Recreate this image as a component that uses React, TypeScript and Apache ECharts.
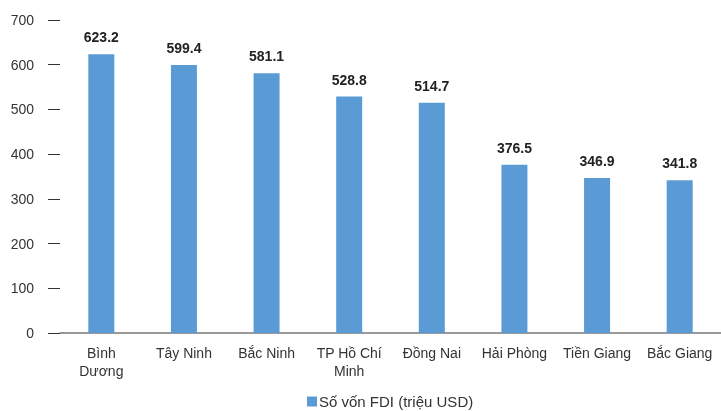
import React, { useEffect, useRef } from "react";
import * as echarts from "echarts";

const categories = ["Bình Dương", "Tây Ninh", "Bắc Ninh", "TP Hồ Chí Minh", "Đồng Nai", "Hải Phòng", "Tiền Giang", "Bắc Giang"];
const values = [623.2, 599.4, 581.1, 528.8, 514.7, 376.5, 346.9, 341.8];
const wrappedLabels: Record<string, string> = {
  "Bình Dương": "Bình\nDương",
  "TP Hồ Chí Minh": "TP Hồ Chí\nMinh",
};
const seriesName = "Số vốn FDI (triệu USD)";
const yTicks = { min: 0, max: 700, interval: 100 };

export default function App() {
  const ref = useRef<HTMLDivElement>(null);
  useEffect(() => {
    if (!ref.current) return;
    const chart = echarts.init(ref.current, null, { renderer: "svg" });
    const font = "'Liberation Sans', Arial, Helvetica, sans-serif";
    chart.setOption({
      animation: false,
      textStyle: { fontFamily: font },
      grid: { left: 60, right: -8, top: 20, bottom: 78 },
      legend: {
        top: 389,
        left: 302,
        itemWidth: 10,
        itemHeight: 10,
        icon: "rect",
        textStyle: { fontSize: 15, color: "#333", fontFamily: font, padding: [0, 0, 0, -3] },
        data: [seriesName],
      },
      xAxis: {
        type: "category",
        data: categories,
        axisLine: { show: true, lineStyle: { color: "#777", width: 1.5 } },
        axisTick: { show: false },
        axisLabel: {
          color: "#333",
          fontSize: 14,
          fontFamily: font,
          margin: 11,
          lineHeight: 18,
          interval: 0,
          formatter: (v: string) => wrappedLabels[v] ?? v,
        },
      },
      yAxis: {
        type: "value",
        min: yTicks.min,
        max: yTicks.max,
        interval: yTicks.interval,
        axisLine: { show: false },
        axisTick: { show: true, length: 12, lineStyle: { color: "#333", width: 1 } },
        splitLine: { show: false },
        axisLabel: { color: "#333", fontSize: 14, fontFamily: font, margin: 26 },
      },
      series: [
        {
          name: seriesName,
          type: "bar",
          data: values,
          barWidth: 26,
          itemStyle: { color: "#5B9BD5" },
          label: {
            show: true,
            position: "top",
            distance: 10,
            color: "#222",
            fontWeight: "bold",
            fontSize: 14,
            fontFamily: font,
            formatter: (p: any) => p.value.toFixed(1),
          },
        },
      ],
    });
    return () => chart.dispose();
  }, []);
  return <div ref={ref} style={{ position: "fixed", left: 0, top: 0, width: 721, height: 411 }} />;
}
